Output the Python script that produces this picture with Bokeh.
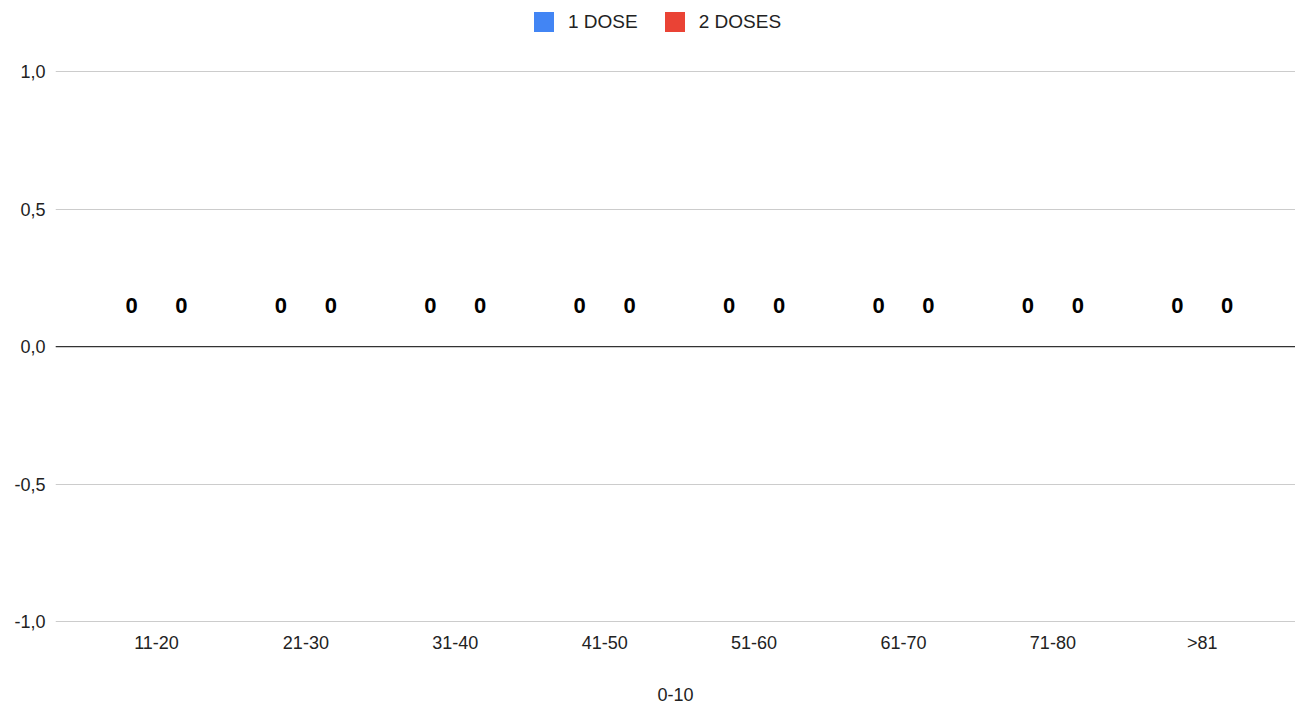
from bokeh.plotting import figure
from bokeh.models import (Range1d, FixedTicker, CustomJSTickFormatter, Span,
                          Legend, LegendItem, ColumnDataSource)
from bokeh.transform import dodge
from bokeh.core.properties import value
from bokeh.embed import file_html
from bokeh.resources import INLINE

# ---- data ----
categories = ["11-20", "21-30", "31-40", "41-50", "51-60", "61-70", "71-80", ">81"]
dose1 = [0, 0, 0, 0, 0, 0, 0, 0]
dose2 = [0, 0, 0, 0, 0, 0, 0, 0]
series_names = ["1 DOSE", "2 DOSES"]
series_colors = ["#4285F4", "#EA4335"]
y_ticks = [-1.0, -0.5, 0.0, 0.5, 1.0]
y_tick_labels = ["-1,0", "-0,5", "0,0", "0,5", "1,0"]
x_axis_title = "0-10"

FONT = "Liberation Sans"
TXT = "#222222"

src = ColumnDataSource(dict(
    x=list(range(len(categories))),
    d1=dose1, d2=dose2,
    t1=[str(v) for v in dose1], t2=[str(v) for v in dose2],
))

# frame spans the full top of the figure so the legend (inside it) is not clipped;
# the value range above 1.0 is empty headroom for the legend.
p = figure(width=1295, height=704,
           x_range=Range1d(-0.676, 7.624), y_range=Range1d(-1.002, 1.2577),
           output_backend="svg", toolbar_location=None,
           min_border_left=55, min_border_right=0,
           min_border_top=0, min_border_bottom=82)
p.outline_line_color = None
p.background_fill_color = "white"
p.border_fill_color = "white"

off = 0.167
bw = 0.3
r1 = p.vbar(x=dodge("x", -off), top="d1", bottom=0, width=bw, source=src,
            fill_color=series_colors[0], line_color=None)
r2 = p.vbar(x=dodge("x", off), top="d2", bottom=0, width=bw, source=src,
            fill_color=series_colors[1], line_color=None)

for col, dx in (("t1", -off), ("t2", off)):
    p.text(x=dodge("x", dx), y=0, text=col, source=src, y_offset=-41,
           text_align="center", text_baseline="middle",
           text_font=value(FONT), text_font_style="bold",
           text_font_size="22px", text_color="#000000")

# zero line
p.add_layout(Span(location=0, dimension="width", line_color="#333333", line_width=1.2))

# y axis
p.yaxis.ticker = FixedTicker(ticks=y_ticks)
p.yaxis.formatter = CustomJSTickFormatter(
    args=dict(tvals=y_ticks, tlabels=y_tick_labels),
    code="""
    for (let i = 0; i < tvals.length; i++) {
        if (Math.abs(tvals[i] - tick) < 1e-9) return tlabels[i];
    }
    return '';
    """)
p.yaxis.axis_line_color = None
p.yaxis.major_tick_line_color = None
p.yaxis.minor_tick_line_color = None
p.yaxis.major_tick_out = 0
p.yaxis.major_label_standoff = 10
p.yaxis.major_label_text_font = FONT
p.yaxis.major_label_text_font_size = "18px"
p.yaxis.major_label_text_color = TXT

# x axis
p.xaxis.ticker = FixedTicker(ticks=list(range(len(categories))))
p.xaxis.formatter = CustomJSTickFormatter(
    args=dict(cats=categories),
    code="const i = Math.round(tick); return (i >= 0 && i < cats.length) ? cats[i] : '';")
p.xaxis.axis_line_color = None
p.xaxis.major_tick_line_color = None
p.xaxis.minor_tick_line_color = None
p.xaxis.major_tick_out = 0
p.xaxis.major_label_standoff = 10
p.xaxis.major_label_text_font = FONT
p.xaxis.major_label_text_font_size = "18px"
p.xaxis.major_label_text_color = TXT
p.xaxis.axis_label = x_axis_title
p.xaxis.axis_label_text_font = FONT
p.xaxis.axis_label_text_font_style = "normal"
p.xaxis.axis_label_text_font_size = "18px"
p.xaxis.axis_label_text_color = TXT
p.xaxis.axis_label_standoff = 32

# grid
p.xgrid.grid_line_color = None
p.ygrid.ticker = FixedTicker(ticks=y_ticks)
p.ygrid.grid_line_color = "#cccccc"
p.ygrid.grid_line_width = 1

# legend
legend = Legend(items=[LegendItem(label=series_names[0], renderers=[r1]),
                       LegendItem(label=series_names[1], renderers=[r2])],
                orientation="horizontal", location=(476, 588),
                glyph_width=25, glyph_height=25, label_standoff=12,
                spacing=24, padding=0, margin=0,
                border_line_color=None, background_fill_alpha=0,
                label_text_font=FONT, label_text_font_size="19px",
                label_text_color=TXT, label_height=25)
p.add_layout(legend, "center")

open("out.html", "w").write(file_html(p, INLINE))
